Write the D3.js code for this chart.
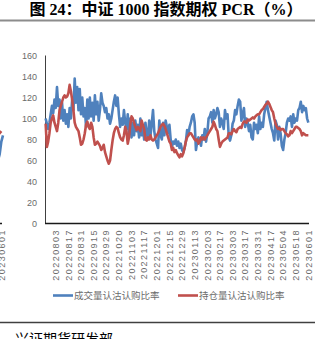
<!DOCTYPE html>
<html><head><meta charset="utf-8">
<script src="https://cdn.jsdelivr.net/npm/d3@7"></script>
<style>
html,body{margin:0;padding:0;background:#fff;overflow:hidden;}
svg{display:block;}
</style></head>
<body>
<script>
// ---------- DATA ----------
const title = "图 24：中证 1000 指数期权 PCR（%）";
const source = "兴证期货研发部";
const seriesNames = ["成交量认沽认购比率", "持仓量认沽认购比率"];
const dates = [
"20220722","20220725","20220726","20220727","20220728","20220729",
"20220801","20220802","20220803","20220804","20220805","20220808","20220809","20220810","20220811","20220812",
"20220815","20220816","20220817","20220818","20220819","20220822","20220823","20220824","20220825","20220826",
"20220829","20220830","20220831",
"20220901","20220902","20220905","20220906","20220907","20220908","20220909","20220913","20220914","20220915","20220916",
"20220919","20220920","20220921","20220922","20220923","20220926","20220927","20220928","20220929","20220930",
"20221010","20221011","20221012","20221013","20221014","20221017","20221018","20221019","20221020","20221021",
"20221024","20221025","20221026","20221027","20221028","20221031",
"20221101","20221102","20221103","20221104","20221107","20221108","20221109","20221110","20221111",
"20221114","20221115","20221116","20221117","20221118","20221121","20221122","20221123","20221124","20221125",
"20221128","20221129","20221130",
"20221201","20221202","20221205","20221206","20221207","20221208","20221209","20221212","20221213","20221214","20221215","20221216",
"20221219","20221220","20221221","20221222","20221223","20221226","20221227","20221228","20221229","20221230",
"20230103","20230104","20230105","20230106","20230109","20230110","20230111","20230112","20230113",
"20230116","20230117","20230118","20230119","20230120","20230130","20230131",
"20230201","20230202","20230203","20230206","20230207","20230208","20230209","20230210","20230213","20230214","20230215","20230216","20230217",
"20230220","20230221","20230222","20230223","20230224","20230227","20230228",
"20230301","20230302","20230303","20230306","20230307","20230308","20230309","20230310","20230313","20230314","20230315","20230316","20230317",
"20230320","20230321","20230322","20230323","20230324","20230327","20230328","20230329","20230330","20230331",
"20230403","20230404","20230406","20230407","20230410","20230411","20230412","20230413","20230414",
"20230417","20230418","20230419","20230420","20230421","20230424","20230425","20230426","20230427","20230428",
"20230504","20230505","20230508","20230509","20230510","20230511","20230512","20230515","20230516","20230517","20230518","20230519",
"20230522","20230523","20230524","20230525","20230526","20230529","20230530","20230531","20230601"
];
const tickLabels = ["20220803","20220817","20220831","20220915","20220929","20221020","20221103","20221117",
"20221201","20221215","20221229","20230113","20230203","20230217","20230303","20230317","20230331",
"20230417","20230504","20230518","20230601"];
const yTicks = [0,20,40,60,80,100,120,140,160];
const volumeRatio = [
100,95,90,96,104,112,105,118,110,130,112,118,100,115,98,108,95,104,92,110,
100,118,108,138,115,130,108,128,104,120,102,110,92,118,100,120,102,115,98,122,
104,116,98,108,124,115,112,106,110,100,104,95,100,108,116,122,112,120,104,92,
100,94,108,96,90,104,86,100,82,96,84,98,88,94,82,100,84,92,80,96,
86,80,98,84,95,108,88,80,76,72,98,84,80,96,84,98,92,86,94,80,
73,78,76,80,74,78,72,76,70,68,72,78,89,84,92,96,102,104,96,70,
78,82,79,74,84,80,90,78,86,100,102,106,96,108,100,104,110,106,92,100,
96,90,108,100,104,82,79,84,95,98,108,104,112,118,116,98,104,110,92,100,
96,88,94,82,80,96,90,94,86,102,90,96,92,104,110,116,108,102,96,90,
86,79,98,94,80,92,86,74,70,80,86,96,100,98,102,92,104,96,100,98,
108,110,116,106,112,108,110,100,96
];
const openInterestRatio = [
95,73,78,86,96,100,103,96,92,88,96,108,112,116,120,122,120,121,124,132,
126,118,108,96,92,90,88,82,75,76,80,86,94,97,92,90,96,92,82,75,
76,78,76,74,70,72,75,68,64,60,57,60,70,79,86,90,92,91,86,82,
80,79,84,92,88,76,82,94,102,100,96,92,89,92,90,88,98,94,90,80,
79,82,80,84,80,79,80,82,84,86,89,92,94,95,93,90,86,82,78,76,
70,72,68,70,67,65,63,66,64,67,72,78,82,84,86,86,84,82,80,79,
80,76,78,82,80,82,80,82,84,86,88,90,92,97,94,90,88,80,73,76,
78,79,80,81,82,86,86,85,88,90,88,87,90,91,92,91,95,97,97,96,
99,98,99,100,101,100,102,103,104,104,106,108,109,111,113,114,116,114,111,108,
106,100,95,92,90,91,89,90,90,88,86,85,83,84,88,86,88,90,92,92,
91,90,88,84,86,85,84,84,84
];
// fragment of the neighbouring (cut-off) chart on the left edge
const fragBlue = [60, 66, 78, 84];
const fragRed = [84, 86, 88];
const fragLabel = "20230601";

// ---------- DRAW ----------
const W = 331, H = 339;
const svg = d3.select("body").append("svg").attr("width", W).attr("height", H);
const cjk = "'Noto Sans CJK SC','Noto Sans',sans-serif";
const blue = "#4F81BD", red = "#C0504D";

// title
svg.append("text").attr("x", 166).attr("y", 14.5).attr("text-anchor", "middle")
  .style("font-family", "'Liberation Serif','Noto Sans CJK SC',serif")
  .style("font-weight", "bold").style("font-size", "16px").attr("fill", "#000")
  .text(title);
svg.append("line").attr("x1", 0).attr("x2", 315).attr("y1", 20.5).attr("y2", 20.5)
  .attr("stroke", "#8c8c8c").attr("stroke-width", 2);

const x = d3.scaleBand().domain(dates).range([45, 309]).padding(0);
const y = d3.scaleLinear().domain([0, 160]).range([223.5, 55.5]);
const xc = d => x(d) + x.bandwidth() / 2;

// y axis labels
svg.append("g").selectAll("text").data(yTicks).join("text")
  .attr("x", 37).attr("y", d => y(d) + 3.2).attr("text-anchor", "end")
  .style("font-family", "'Liberation Sans',Arial,sans-serif").style("font-size", "9px")
  .attr("fill", "#6b6b6b").text(d => d);

// axes lines
svg.append("line").attr("x1", 45.5).attr("x2", 45.5).attr("y1", y(160)).attr("y2", y(0))
  .attr("stroke", "#404040").attr("stroke-width", 1);
svg.append("line").attr("x1", 45).attr("x2", 309).attr("y1", y(0)).attr("y2", y(0))
  .attr("stroke", "#1a1a1a").attr("stroke-width", 1.3);

// x labels
svg.append("g").selectAll("text").data(tickLabels).join("text")
  .attr("transform", d => `translate(${xc(d) + 3.2},229) rotate(-90)`)
  .attr("text-anchor", "end")
  .style("font-family", "'Liberation Sans',Arial,sans-serif").style("font-size", "9px")
  .style("letter-spacing", "1.45px")
  .attr("fill", "#6b6b6b").text(d => d);

// lines
const line = d3.line().x((d, i) => xc(dates[i])).y(d => y(d));
svg.append("path").datum(volumeRatio).attr("d", line).attr("fill", "none")
  .attr("stroke", blue).attr("stroke-width", 2.6).attr("stroke-linejoin", "round");
svg.append("path").datum(openInterestRatio).attr("d", line).attr("fill", "none")
  .attr("stroke", red).attr("stroke-width", 2.6).attr("stroke-linejoin", "round");

// left fragment (neighbour chart)
const fx = d3.scaleLinear().domain([0, 3]).range([-2, 3]);
const fline = d3.line().x((d, i) => fx(i)).y(d => y(d));
svg.append("path").datum(fragBlue).attr("d", fline).attr("fill", "none").attr("stroke", blue).attr("stroke-width", 2.6);
svg.append("path").datum(fragRed).attr("d", fline).attr("fill", "none").attr("stroke", red).attr("stroke-width", 2.6);
svg.append("line").attr("x1", -5).attr("x2", 2).attr("y1", y(0)).attr("y2", y(0)).attr("stroke", "#1a1a1a").attr("stroke-width", 1.3);
svg.append("text").attr("transform", "translate(4.5,229) rotate(-90)").attr("text-anchor", "end")
  .style("font-family", "'Liberation Sans',Arial,sans-serif").style("font-size", "9px")
  .style("letter-spacing", "1.45px").attr("fill", "#6b6b6b").text(fragLabel);

// legend
const lg = svg.append("g").style("font-family", cjk).style("font-size", "9.5px");
const legendItems = [{n: seriesNames[0], c: blue, x: 53}, {n: seriesNames[1], c: red, x: 178}];
legendItems.forEach(it => {
  lg.append("line").attr("x1", it.x).attr("x2", it.x + 20).attr("y1", 295.5).attr("y2", 295.5)
    .attr("stroke", it.c).attr("stroke-width", 2.6);
  lg.append("text").attr("x", it.x + 21).attr("y", 299).attr("fill", "#6b6b6b").text(it.n);
});

// footer
svg.append("line").attr("x1", 0).attr("x2", 315).attr("y1", 322.5).attr("y2", 322.5)
  .attr("stroke", "#404040").attr("stroke-width", 1.3);
svg.append("text").attr("x", 15).attr("y", 344).style("font-family", cjk)
  .style("font-size", "14px").attr("fill", "#000").text(source);
</script>
</body></html>
